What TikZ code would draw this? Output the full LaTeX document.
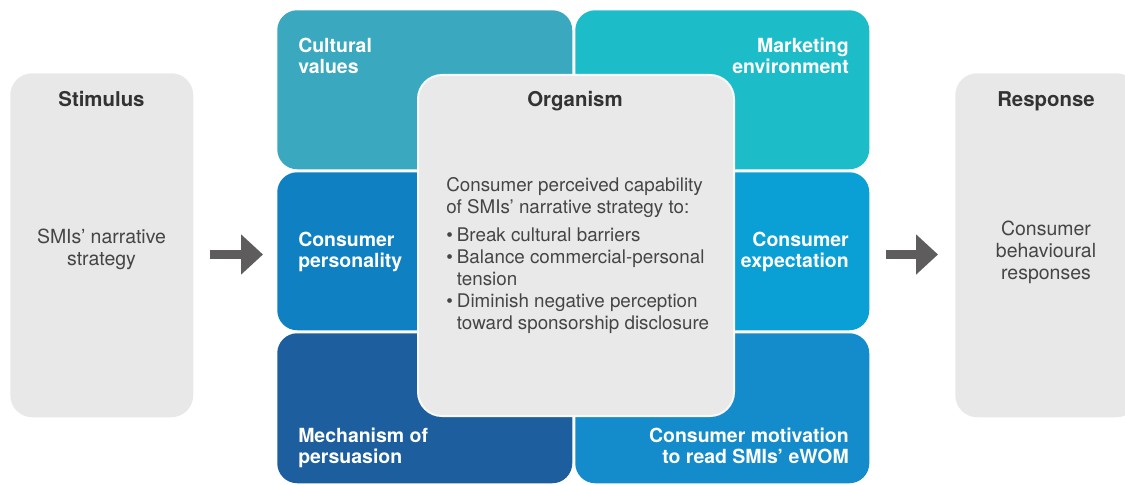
\documentclass[tikz,border=0pt]{standalone}
\usepackage{fontspec}
\setmainfont{TeX Gyre Heros}
\usetikzlibrary{arrows.meta}
\definecolor{cA}{HTML}{3AA8BE}
\definecolor{cB}{HTML}{1CBDC9}
\definecolor{cC}{HTML}{0F80C2}
\definecolor{cD}{HTML}{0AA0D6}
\definecolor{cE}{HTML}{1D5F9E}
\definecolor{cF}{HTML}{148BCB}
\definecolor{sidegray}{HTML}{E8E8E8}
\definecolor{orggray}{HTML}{E9E9E9}
\definecolor{titlecol}{HTML}{333333}
\definecolor{bodycol}{HTML}{454545}
\definecolor{arrowcol}{HTML}{5E5C5D}
\begin{document}
\begin{tikzpicture}[x=0.75pt,y=-0.75pt,
  quad/.style={draw=none, rounded corners=15pt, inner sep=0, anchor=north west},
  side/.style={draw=none, fill=sidegray, rounded corners=16.5pt, inner sep=0, anchor=north west,
     minimum width=137.25pt, minimum height=258pt},
  qlabel/.style={text=white, font=\bfseries\fontsize{14.6}{15.75}\selectfont, inner sep=0},
  titlelbl/.style={text=titlecol, font=\bfseries\fontsize{15.3}{18}\selectfont, inner sep=0, anchor=base},
  bodylbl/.style={text=bodycol, font=\fontsize{14.6}{16.2}\selectfont, inner sep=0, align=center, anchor=north},
  blockarrow/.style={draw=arrowcol, line width=6.75pt, -{Triangle[length=16.5pt, width=29.25pt]}}
]
\useasboundingbox (0,0) rectangle (1125,485);
\clip (0,0) rectangle (1125,485);

% side boxes
\node[side] (stim) at (10,73) {};
\node[side] (resp) at (955,73) {};

% quadrants
\node[quad, fill=cA, minimum width=221.25pt, minimum height=119.25pt] (cv) at (277,10) {};
\node[quad, fill=cB, minimum width=220.5pt, minimum height=119.25pt] (me) at (575,10) {};
\node[quad, fill=cC, minimum width=221.25pt, minimum height=118.5pt] (cp) at (277,172) {};
\node[quad, fill=cD, minimum width=220.5pt, minimum height=118.5pt] (ce) at (575,172) {};
\node[quad, fill=cE, minimum width=221.25pt, minimum height=112.5pt] (mp) at (277,333) {};
\node[quad, fill=cF, minimum width=220.5pt, minimum height=112.5pt] (cm) at (575,333) {};

% quadrant labels
\node[qlabel, align=left, anchor=north west] (cvt) at (298,38) {Cultural\\values};
\node[qlabel, align=right, anchor=north east] (met) at (849,38) {Marketing\\environment};
\node[qlabel, align=left, anchor=north west] (cpt) at (298,232) {Consumer\\personality};
\node[qlabel, align=right, anchor=north east] (cet) at (849,232) {Consumer\\expectation};
\node[qlabel, align=left, anchor=north west] (mpt) at (298,428) {Mechanism of\\persuasion};
\node[qlabel, align=right, anchor=north east] (cmt) at (849,428) {Consumer motivation\\to read SMIs’ eWOM};

% organism box
\node[draw=white!70!orggray, line width=1.5pt, fill=orggray, rounded corners=18pt, inner sep=0,
      anchor=north west, minimum width=237pt, minimum height=255.75pt] (org) at (417,74) {};
\node[titlelbl] (orgt) at (575,107) {Organism};
\node[text=bodycol, font=\fontsize{14.1}{16.5}\selectfont, inner sep=0, align=left, anchor=north west] (orgb) at (446,177)
  {Consumer perceived capability\\
   of SMIs’ narrative strategy to:\\[5pt]
   \makebox[8pt][l]{\textbullet}Break cultural barriers\\
   \makebox[8pt][l]{\textbullet}Balance commercial-personal\\
   \makebox[8pt][l]{}tension\\
   \makebox[8pt][l]{\textbullet}Diminish negative perception\\
   \makebox[8pt][l]{}toward sponsorship disclosure};

% side labels
\node[titlelbl] (stimt) at (101.5,107) {Stimulus};
\node[bodylbl] (stimb) at (101.5,229) {SMIs’ narrative\\strategy};
\node[titlelbl] (respt) at (1046,107) {Response};
\node[bodylbl] (respb) at (1046,221) {Consumer\\behavioural\\responses};

% arrows
\coordinate (a1s) at (210,254.5);
\coordinate (a1e) at (263,254.5);
\coordinate (a2s) at (886,254.5);
\coordinate (a2e) at (938,254.5);
\draw[blockarrow] (a1s) -- (a1e);
\draw[blockarrow] (a2s) -- (a2e);
\end{tikzpicture}
\end{document}
